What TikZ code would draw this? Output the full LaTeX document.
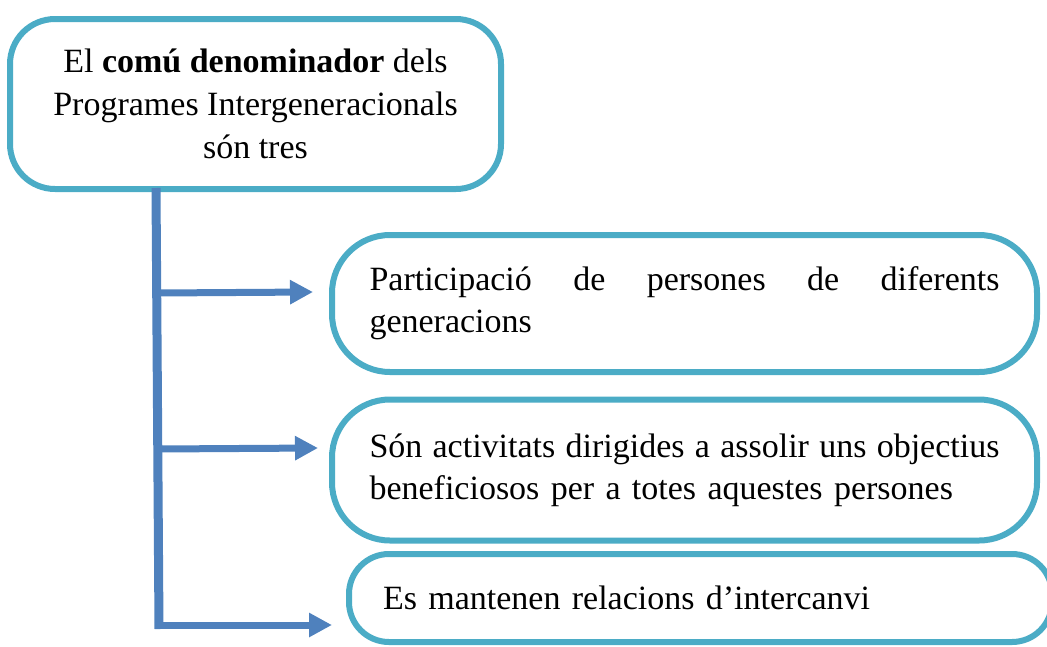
\documentclass[tikz,border=0pt]{standalone}
\usepackage{fontspec}
\setmainfont{Liberation Serif}
\usetikzlibrary{arrows.meta}
\definecolor{boxteal}{HTML}{4BACC6}
\definecolor{arrblue}{HTML}{4F81BD}
\begin{document}
\begin{tikzpicture}[x=1pt,y=-1pt,
  box/.style={draw=boxteal, line width=6pt, rounded corners=#1, fill=white, inner sep=0pt},
  box/.default=58pt,
  bigtext/.style={font=\fontsize{34}{43}\selectfont},
  rtext/.style={font=\fontsize{34}{42}\selectfont},
  trunkline/.style={draw=arrblue, line width=9pt, line cap=butt},
  arr/.style={draw=arrblue, line width=7pt, -{Triangle[length=23pt,width=23pt]}}]
\useasboundingbox (0,0) rectangle (1047,646);
\clip (0,0) rectangle (1047,646);
% boxes
\node[box=45pt, minimum width=491pt, minimum height=170pt, align=center, bigtext] (top) at (255.5,104)
  {El \textbf{comú denominador} dels\\Programes Intergeneracionals\\són tres};
\node[box, minimum width=705pt, minimum height=137pt, text width=630pt, align=left, rtext] (b1) at (684.5,303.5)
  {\makebox[630pt][l]{Participació\hfill de\hfill persones\hfill de\hfill diferents}\\generacions};
\node[box, minimum width=705pt, minimum height=141pt, text width=630pt, align=left, rtext] (b2) at (684.5,470)
  {\makebox[630pt][l]{Són\hfill activitats\hfill dirigides\hfill a\hfill assolir\hfill uns\hfill objectius}\\beneficiosos per a totes aquestes persones};
\node[box=40pt, minimum width=703pt, minimum height=88pt, text width=635pt, align=left, rtext] (b3) at (700.5,598)
  {Es mantenen relacions d’intercanvi};
% connectors
\coordinate (t0) at (156,188);
\coordinate (t3) at (159,629);
\coordinate (j1) at (157,293);
\coordinate (e1) at (313,292);
\coordinate (j2) at (158,449);
\coordinate (e2) at (318,448);
\coordinate (j3) at (154.5,625);
\coordinate (e3) at (332,625);
\draw[trunkline] (t0) -- (t3);
\draw[arr] (j1) -- (e1);
\draw[arr] (j2) -- (e2);
\draw[arr] (j3) -- (e3);
\end{tikzpicture}
\end{document}
